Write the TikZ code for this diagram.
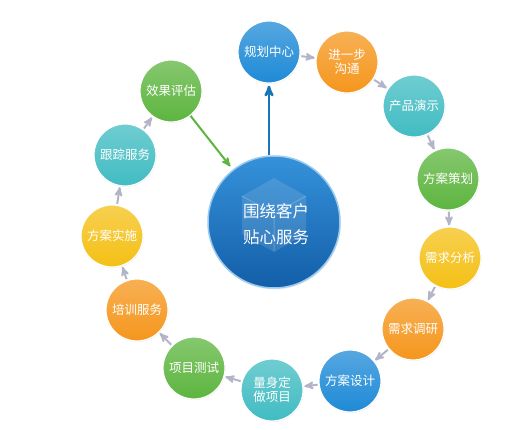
\documentclass[tikz,border=0pt]{standalone}
\usepackage{fontspec}
\newfontfamily\cjk{Noto Sans CJK SC}
\usepackage{tikz}
\usetikzlibrary{arrows,shadows}

\definecolor{ballblue}{HTML}{1E8AD6}
\definecolor{ballorange}{HTML}{F5961C}
\definecolor{ballteal}{HTML}{40BCC2}
\definecolor{ballgreen}{HTML}{5DB53F}
\definecolor{ballyellow}{HTML}{F4C015}
\definecolor{hubtop}{HTML}{3592DA}
\definecolor{hubblue}{HTML}{135EA8}
\definecolor{linkgrey}{HTML}{B4B4C8}

\begin{document}
\begin{tikzpicture}[x=1pt,y=-1pt,>=stealth',shorten >=1pt,semithick,
                    ball/.style={circle,minimum size=62pt,inner sep=0pt,
                      draw=white,line width=1.2pt,text=white,align=center,
                      font=\cjk\fontsize{12.5}{14}\selectfont,
                      top color=#1!75!white,bottom color=#1,
                      drop shadow={opacity=0.15,shadow xshift=0.6pt,shadow yshift=-1pt}}]
\tikzstyle{hub}=[circle,minimum size=132pt,inner sep=0pt,
                 draw=ballblue!45!white,line width=1.5pt,
                 top color=hubtop,bottom color=hubblue,
                 drop shadow={opacity=0.15,shadow xshift=0.8pt,shadow yshift=-1.5pt}]
\tikzstyle{link}=[->,draw=linkgrey,line width=2pt,shorten <=1pt,shorten >=1pt]
\useasboundingbox (0,0) rectangle (525,430);
\node[ball=ballblue]   (1)  at (269,52)  {规划中心};
\node[ball=ballorange] (2)  at (347,62)  {进一步\\沟通};
\node[ball=ballteal]   (3)  at (414,106) {产品演示};
\node[ball=ballgreen]  (4)  at (448,179) {方案策划};
\node[ball=ballyellow] (5)  at (450,258) {需求分析};
\node[ball=ballorange] (6)  at (413,329) {需求调研};
\node[ball=ballblue]   (7)  at (350,381) {方案设计};
\node[ball=ballteal]   (8)  at (272,390) {量身定\\做项目};
\node[ball=ballgreen]  (9)  at (194,368) {项目测试};
\node[ball=ballorange] (10) at (137,310) {培训服务};
\node[ball=ballyellow] (11) at (112,236) {方案实施};
\node[ball=ballteal]   (12) at (125,155) {跟踪服务};
\node[ball=ballgreen]  (13) at (171,91)  {效果评估};
\node[hub] (0) at (274,222) {};
% faint cube behind the text
\begin{scope}[white,opacity=0.12]
\fill (274,178) -- (306,196) -- (306,234) -- (274,252) -- (242,234) -- (242,196) -- cycle;
\end{scope}
\begin{scope}[white,opacity=0.2,line width=1pt]
\draw (242,196) -- (274,214) -- (306,196) (274,214) -- (274,252);
\end{scope}
\node[text=white,align=center,font=\cjk\fontsize{16.5}{26}\selectfont] (t) at (276,224) {围绕客户\\贴心服务};
\path[link] (1) edge (2)
            (2) edge (3)
            (3) edge (4)
            (4) edge (5)
            (5) edge (6)
            (6) edge (7)
            (7) edge (8)
            (8) edge (9)
            (9) edge (10)
            (10) edge (11)
            (11) edge (12)
            (12) edge (13);
\draw[->,draw=ballblue!85!black,line width=2.5pt,shorten >=2pt] (1.south |- 0.north) -- (1.south);
\draw[->,draw=ballgreen,line width=2pt,shorten >=4pt] (13) -- (0);
\end{tikzpicture}
\end{document}
